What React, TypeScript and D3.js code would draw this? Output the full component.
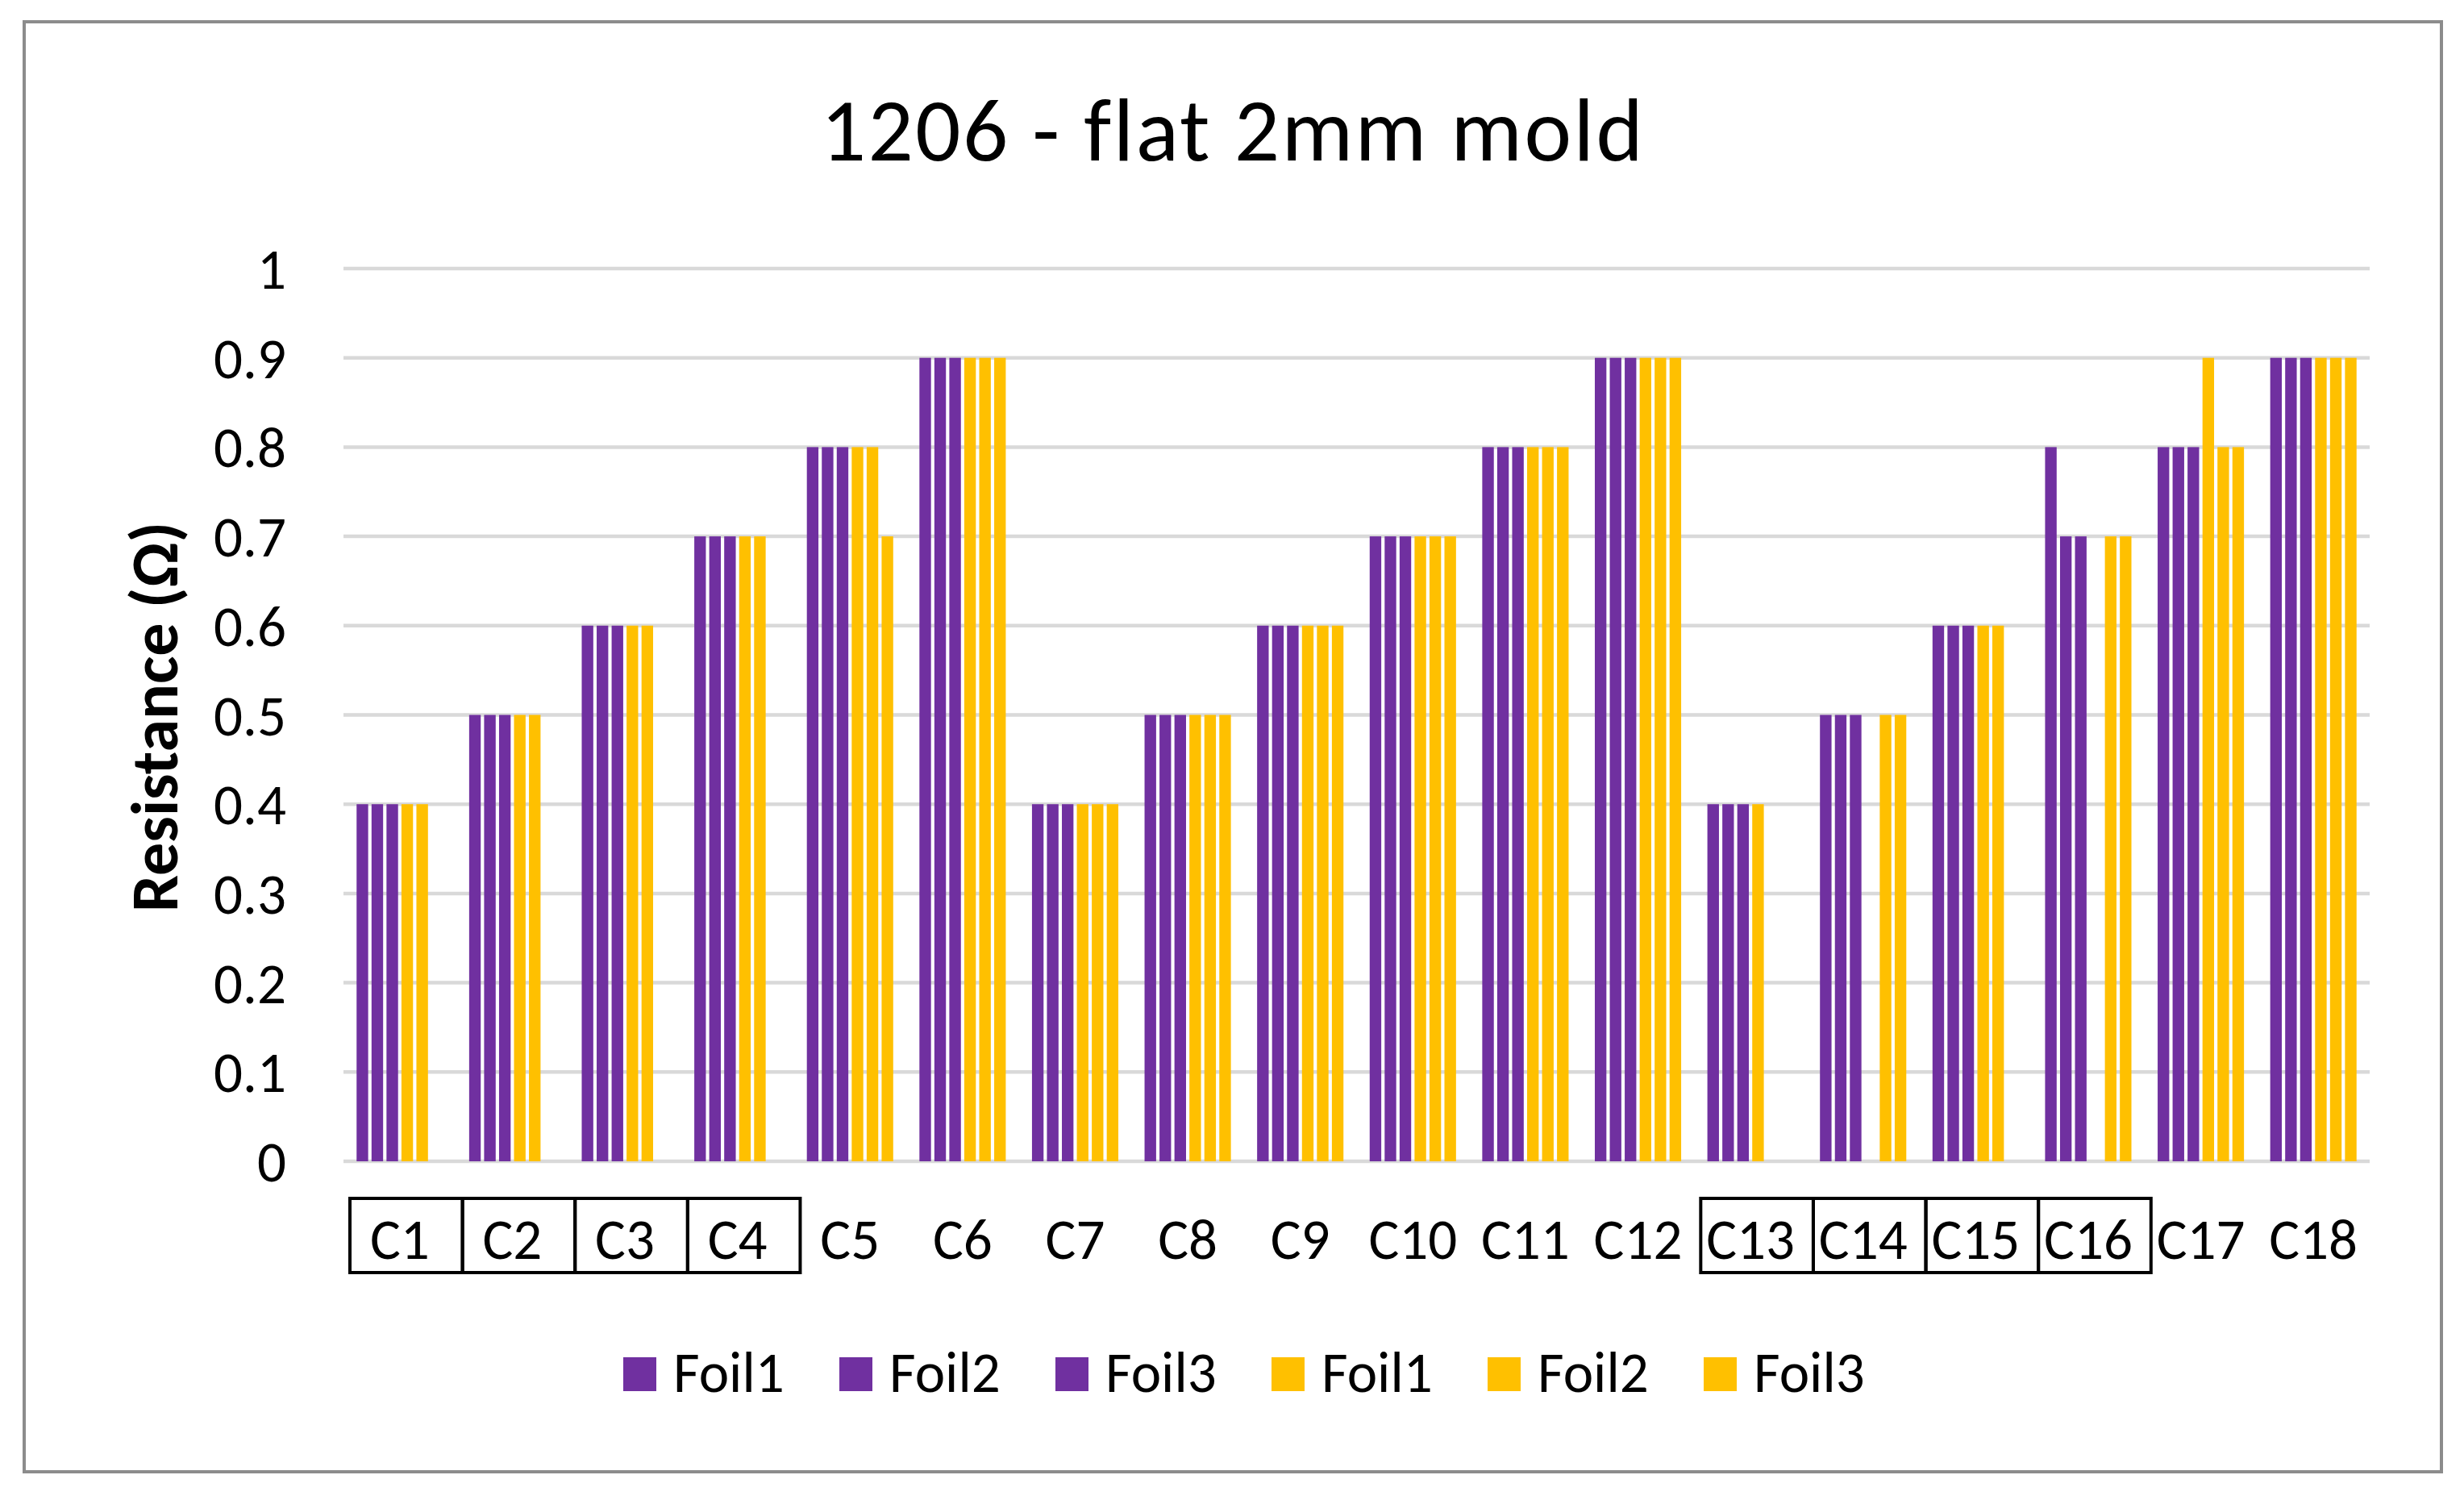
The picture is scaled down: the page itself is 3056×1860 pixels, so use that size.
import * as d3 from 'd3'

const W = 3056, H = 1860
const M = { left: 426, right: 2939, top: 333, bottom: 1440 }

const categories = ['C1', 'C2', 'C3', 'C4', 'C5', 'C6', 'C7', 'C8', 'C9', 'C10', 'C11', 'C12', 'C13', 'C14', 'C15', 'C16', 'C17', 'C18']
const boxed = ['C1', 'C2', 'C3', 'C4', 'C13', 'C14', 'C15', 'C16']

const seriesNames = ['Foil1', 'Foil2', 'Foil3', 'Foil1', 'Foil2', 'Foil3']
const seriesColors = ['#7030A0', '#7030A0', '#7030A0', '#FFC000', '#FFC000', '#FFC000']

// purple group
const foil1A = [0.4, 0.5, 0.6, 0.7, 0.8, 0.9, 0.4, 0.5, 0.6, 0.7, 0.8, 0.9, 0.4, 0.5, 0.6, 0.8, 0.8, 0.9]
const foil2A = [0.4, 0.5, 0.6, 0.7, 0.8, 0.9, 0.4, 0.5, 0.6, 0.7, 0.8, 0.9, 0.4, 0.5, 0.6, 0.7, 0.8, 0.9]
const foil3A = [0.4, 0.5, 0.6, 0.7, 0.8, 0.9, 0.4, 0.5, 0.6, 0.7, 0.8, 0.9, 0.4, 0.5, 0.6, 0.7, 0.8, 0.9]
// yellow group
const foil1B = [0.4, 0.5, 0.6, 0.7, 0.8, 0.9, 0.4, 0.5, 0.6, 0.7, 0.8, 0.9, 0.4, null, 0.6, null, 0.9, 0.9]
const foil2B = [0.4, 0.5, 0.6, 0.7, 0.8, 0.9, 0.4, 0.5, 0.6, 0.7, 0.8, 0.9, null, 0.5, 0.6, 0.7, 0.8, 0.9]
const foil3B = [null, null, null, null, 0.7, 0.9, 0.4, 0.5, 0.6, 0.7, 0.8, 0.9, null, 0.5, null, 0.7, 0.8, 0.9]

const series = [foil1A, foil2A, foil3A, foil1B, foil2B, foil3B]
const yTicks = [0, 0.1, 0.2, 0.3, 0.4, 0.5, 0.6, 0.7, 0.8, 0.9, 1]

const FONT = 'Carlito, Calibri, Lato, "Open Sans", sans-serif'

export default function App() {
  const x = d3.scaleBand<string>().domain(categories).range([M.left, M.right]).paddingInner(0.233).paddingOuter(0.1165)
  const xs = d3.scaleBand<number>().domain(d3.range(series.length)).range([0, x.bandwidth()]).paddingInner(0.226)
  const y = d3.scaleLinear().domain([0, 1]).range([M.bottom, M.top])
  const step = x.step()
  const fmt = d3.format('~g')

  return (
    <div>
      <style>{'body{margin:0}'}</style>
      <svg width={W} height={H} viewBox={`0 0 ${W} ${H}`} style={{ display: 'block', background: '#fff' }} fontFamily={FONT}>
        <rect x={30} y={27} width={2998} height={1798} fill="#fff" stroke="#8c8c8c" strokeWidth={4} />

        <text x={1529} y={199} textAnchor="middle" fontSize={111} letterSpacing={2.5} fill="#000">1206 - flat 2mm mold</text>

        {/* gridlines */}
        {yTicks.map((t) => (
          <line key={t} x1={M.left} x2={M.right} y1={y(t)} y2={y(t)} stroke="#d9d9d9" strokeWidth={4.5} />
        ))}
        {yTicks.map((t) => (
          <text key={'l' + t} x={355} y={y(t) + 25} textAnchor="end" fontSize={71} fill="#000">{fmt(t)}</text>
        ))}

        <text transform="translate(220,889) rotate(-90)" textAnchor="middle" fontSize={82} fontWeight="bold" fill="#000">Resistance (Ω)</text>

        {/* bars */}
        {series.map((vals, si) => vals.map((v, ci) => v == null ? null : (
          <rect key={si + '-' + ci}
            x={(x(categories[ci]) ?? 0) + (xs(si) ?? 0)} y={y(v)}
            width={xs.bandwidth()} height={y(0) - y(v)}
            fill={seriesColors[si]} />
        )))}

        {/* category labels */}
        {categories.map((c) => {
          const cx = (x(c) ?? 0) + x.bandwidth() / 2
          return (
            <g key={c}>
              {boxed.includes(c) && (
                <rect x={cx - step / 2 + 8} y={1486} width={step} height={92} fill="none" stroke="#000" strokeWidth={4} />
              )}
              <text x={cx} y={1561} textAnchor="middle" fontSize={71} fill="#000">{c}</text>
            </g>
          )
        })}

        {/* legend */}
        {seriesNames.map((n, i) => {
          const lx = 773 + i * 268
          return (
            <g key={i}>
              <rect x={lx} y={1683} width={41} height={42} fill={seriesColors[i]} />
              <text x={lx + 62} y={1726} fontSize={71} fill="#000">{n}</text>
            </g>
          )
        })}
      </svg>
    </div>
  )
}
